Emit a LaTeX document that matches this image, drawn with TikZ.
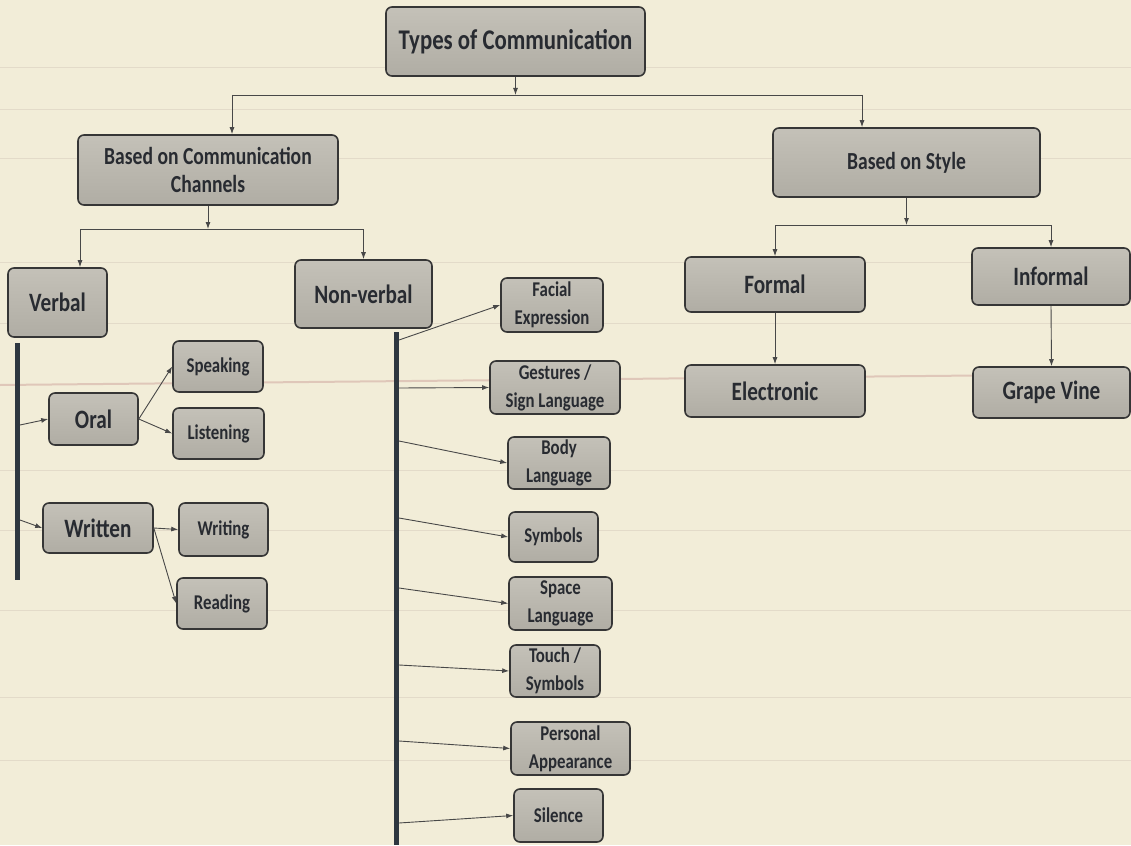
\documentclass[tikz,border=0pt]{standalone}
\usepackage{fontspec}
\setmainfont{Carlito}[FakeStretch=0.8]
\usetikzlibrary{arrows.meta}

\definecolor{paper}{HTML}{F2EDD8}
\definecolor{rule}{HTML}{D9CFC0}
\definecolor{rulered}{HTML}{D8B8AC}
\definecolor{edge}{HTML}{363636}
\definecolor{fillTop}{HTML}{C4C1B8}
\definecolor{fillBot}{HTML}{B0ADA4}
\definecolor{ink}{HTML}{282B31}
\definecolor{wire}{HTML}{484848}
\definecolor{spine}{HTML}{2E3740}

\newcommand\ftop{\fontsize{28.5}{30}\selectfont\bfseries}
\newcommand\fbig{\fontsize{26.5}{28}\selectfont\bfseries}
\newcommand\fmid{\fontsize{24.5}{28}\selectfont\bfseries}
\newcommand\fsmall{\fontsize{21}{28}\selectfont\bfseries}

\tikzset{
  card/.style 2 args={draw=edge, line width=1.6pt, rounded corners=6pt,
    top color=fillTop, bottom color=fillBot, text=ink, align=center,
    inner sep=0pt, minimum width=#1, minimum height=#2},
  arr/.style={draw=wire, line width=0.9pt, -{Latex[length=7pt,width=5pt]}},
  wireline/.style={draw=wire, line width=0.9pt},
  spineline/.style={draw=spine, line width=5pt},
  ruling/.style={draw=rule, line width=1pt, opacity=0.6},
}

\begin{document}
\begin{tikzpicture}[x=1pt,y=-1pt]
  % paper
  \fill[paper] (0,0) rectangle (1131,845);
  \useasboundingbox (0,0) rectangle (1131,845);
  \foreach \yy in {68,110,159,262,323,470,530,610,697,760}
    \draw[ruling] (0,\yy) -- (1131,\yy);
  \draw[draw=rulered, line width=2pt, opacity=0.7] (0,385) -- (1131,374);

  % boxes: top and first level
  \node[card={259}{69}, font=\ftop] (top) at (515.5,41.5) {Types of Communication};
  \node[card={260}{70}, font=\fmid] (bcc) at (208,170) {Based on Communication\\Channels};
  \node[card={267}{69}, font=\fmid] (bos) at (906.5,162.5) {Based on Style};

  % channels
  \node[card={99}{69}, font=\fbig] (verbal) at (57.5,302.5) {Verbal};
  \node[card={137}{68}, font=\fbig] (nonverbal) at (363.5,294) {Non-verbal};

  % style
  \node[card={180}{55}, font=\fbig] (formal) at (775,284.5) {Formal};
  \node[card={158}{57}, font=\fbig] (informal) at (1051,276.5) {Informal};
  \node[card={180}{52}, font=\fbig] (electronic) at (775,391) {Electronic};
  \node[card={157}{51}, font=\fbig] (grape) at (1051.5,392.5) {Grape Vine};

  % verbal branch
  \node[card={89}{52}, font=\fbig] (oral) at (93.5,419) {Oral};
  \node[card={90}{51}, font=\fsmall] (speaking) at (218,366.5) {Speaking};
  \node[card={91}{51}, font=\fsmall] (listening) at (218.5,433.5) {Listening};
  \node[card={110}{50}, font=\fbig] (written) at (98,528) {Written};
  \node[card={89}{53}, font=\fsmall] (writing) at (223.5,529.5) {Writing};
  \node[card={90}{51}, font=\fsmall] (reading) at (222,603.5) {Reading};

  % non-verbal branch
  \node[card={102}{54}, font=\fsmall] (facial) at (552,305) {Facial\\Expression};
  \node[card={130}{53}, font=\fsmall] (gestures) at (555,387.5) {Gestures /\\Sign Language};
  \node[card={102}{52}, font=\fsmall] (body) at (559,463) {Body\\Language};
  \node[card={89}{50}, font=\fsmall] (symbols) at (553.5,537) {Symbols};
  \node[card={103}{53}, font=\fsmall] (space) at (560.5,603.5) {Space\\Language};
  \node[card={90}{52}, font=\fsmall] (touch) at (555,671) {Touch /\\Symbols};
  \node[card={119}{53}, font=\fsmall] (personal) at (570.5,748.5) {Personal\\Appearance};
  \node[card={89}{53}, font=\fsmall] (silence) at (558.5,815.5) {Silence};

  % junction points
  \coordinate (tL) at (232,95);
  \coordinate (tR) at (862,95);
  \coordinate (cL) at (80,229);
  \coordinate (cR) at (363.5,229);
  \coordinate (sL) at (775,225);
  \coordinate (sR) at (1051,225);

  % top split
  \draw[arr] (top.south) -- (top.south |- tL);
  \draw[wireline] (tL) -- (tR);
  \draw[arr] (tL) -- (tL |- bcc.north);
  \draw[arr] (tR) -- (tR |- bos.north);

  % channels split
  \draw[arr] (bcc.south) -- (bcc.south |- cL);
  \draw[wireline] (cL) -- (cR);
  \draw[arr] (cL) -- (cL |- verbal.north);
  \draw[arr] (cR) -- (nonverbal.north);

  % style split
  \draw[arr] (bos.south) -- (bos.south |- sL);
  \draw[wireline] (sL) -- (sR);
  \draw[arr] (sL) -- (formal.north);
  \draw[arr] (sR) -- (informal.north);
  \draw[arr] (formal.south) -- (electronic.north);
  \draw[arr] (informal.south) -- (grape.north);

  % verbal spine
  \coordinate (vT) at (17,343);
  \coordinate (vB) at (17,580);
  \coordinate (v1) at (20,425);
  \coordinate (v2) at (20,520);
  \draw[spineline] (vT) -- (vB);
  \draw[arr] (v1) -- (oral.west);
  \draw[arr] (v2) -- (written.west);
  \draw[arr] (oral.east) -- (speaking.west);
  \draw[arr] (oral.east) -- (listening.west);
  \draw[arr] (written.east) -- (writing.west);
  \draw[arr] (written.east) -- (reading.west);

  % non-verbal spine
  \coordinate (nT) at (396.5,332);
  \coordinate (nB) at (396.5,845);
  \draw[spineline] (nT) -- (nB);
  \coordinate (n1) at (399,340);
  \coordinate (n2) at (399,388);
  \coordinate (n3) at (399,441);
  \coordinate (n4) at (399,518);
  \coordinate (n5) at (399,588);
  \coordinate (n6) at (399,665);
  \coordinate (n7) at (399,741);
  \coordinate (n8) at (399,823);
  \draw[arr] (n1) -- (facial.west);
  \draw[arr] (n2) -- (gestures.west);
  \draw[arr] (n3) -- (body.west);
  \draw[arr] (n4) -- (symbols.west);
  \draw[arr] (n5) -- (space.west);
  \draw[arr] (n6) -- (touch.west);
  \draw[arr] (n7) -- (personal.west);
  \draw[arr] (n8) -- (silence.west);
\end{tikzpicture}
\end{document}
